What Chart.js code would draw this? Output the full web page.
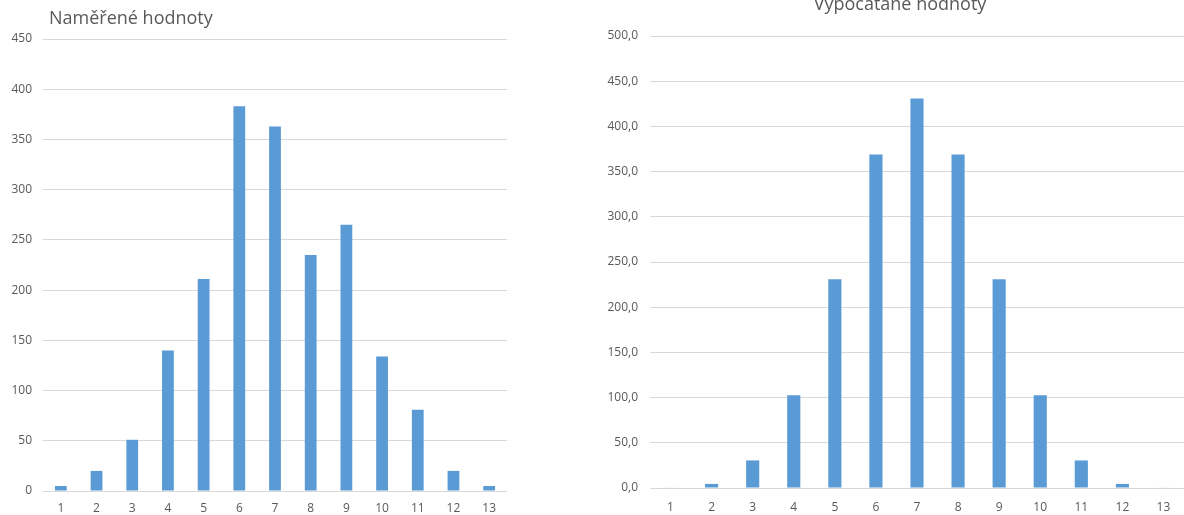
<!DOCTYPE html>
<html>
<head>
<meta charset="utf-8">
<script src="https://cdn.jsdelivr.net/npm/chart.js@4/dist/chart.umd.min.js"></script>
<style>
  html, body { margin: 0; padding: 0; background: #fff; }
  body { width: 1184px; height: 515px; position: relative; overflow: hidden; }
  .box { position: absolute; top: 0; height: 515px; }
  #left { left: 0; width: 507px; }
  #right { left: 600px; width: 584px; }
</style>
</head>
<body>
<div class="box" id="left"><canvas id="measured"></canvas></div>
<div class="box" id="right"><canvas id="computed"></canvas></div>
<script>
const categories = ['1', '2', '3', '4', '5', '6', '7', '8', '9', '10', '11', '12', '13'];
const measured = [5, 20, 51, 140, 211, 383, 363, 235, 265, 134, 81, 20, 5];
const computed = [0.5, 4.5, 30.5, 102.5, 231, 369, 431, 369, 231, 102.5, 30.5, 4.5, 0.5];
const leftTitle = 'Naměřené hodnoty';
const rightTitle = 'Vypočatané hodnoty';

const BLUE = '#5b9bd5';
const GRID = '#d9d9d9';
const TEXT = '#595959';
Chart.defaults.font.family = '"Open Sans", sans-serif';
Chart.defaults.font.size = 12;
Chart.defaults.color = TEXT;

// draws the title text at a fixed spot, like the spreadsheet does
const titlePlugin = {
  id: 'sheetTitle',
  afterDraw(chart, args, opts) {
    const ctx = chart.ctx;
    ctx.save();
    ctx.font = '18px "Open Sans", sans-serif';
    ctx.fillStyle = TEXT;
    ctx.textAlign = opts.align;
    ctx.textBaseline = 'alphabetic';
    ctx.fillText(opts.text, opts.x, opts.y);
    ctx.restore();
  }
};

function makeChart(id, values, cfg) {
  return new Chart(document.getElementById(id), {
    type: 'bar',
    data: {
      labels: categories,
      datasets: [{
        data: values,
        backgroundColor: BLUE,
        borderWidth: 0,
        barPercentage: cfg.barPct,
        categoryPercentage: 1
      }]
    },
    plugins: [titlePlugin],
    options: {
      responsive: true,
      maintainAspectRatio: false,
      animation: false,
      layout: { padding: { top: cfg.top, right: 0, bottom: 0, left: 0 } },
      plugins: {
        legend: { display: false },
        tooltip: { enabled: false },
        sheetTitle: cfg.title
      },
      scales: {
        x: {
          grid: { display: false, drawTicks: false },
          border: { display: true, color: GRID, width: 1 },
          ticks: { padding: cfg.xPad, maxRotation: 0, autoSkip: false },
          afterFit: s => { s.height = cfg.xHeight; }
        },
        y: {
          min: 0,
          max: cfg.max,
          grid: { color: GRID, lineWidth: 1, drawTicks: false },
          border: { display: false },
          ticks: { stepSize: 50, padding: cfg.yPad, callback: cfg.fmt },
          afterFit: s => { s.width = cfg.yWidth; }
        }
      }
    }
  });
}

makeChart('measured', measured, {
  barPct: 0.33, top: 39, max: 450, xHeight: 24, yWidth: 43, xPad: 10, yPad: 11,
  fmt: v => String(v),
  title: { text: leftTitle, x: 49, y: 24, align: 'left' }
});

makeChart('computed', computed, {
  barPct: 0.32, top: 36, max: 500, xHeight: 27, yWidth: 50, xPad: 12, yPad: 12,
  fmt: v => v.toFixed(1).replace('.', ','),
  title: { text: rightTitle, x: 300, y: 10, align: 'center' }
});
</script>
</body>
</html>
